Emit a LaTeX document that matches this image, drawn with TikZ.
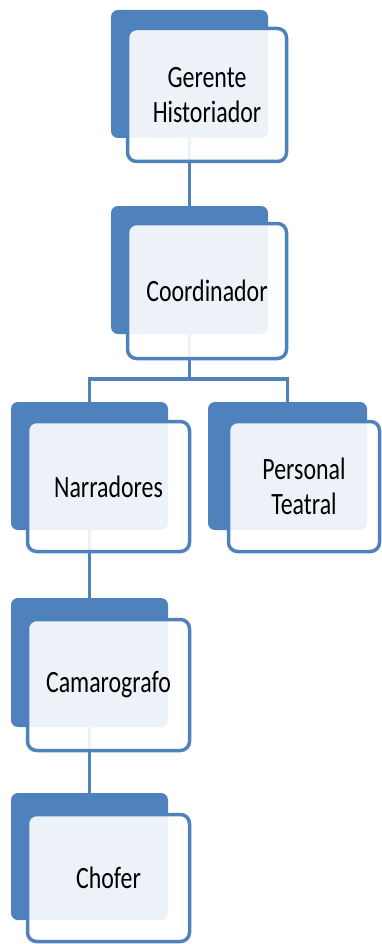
\documentclass[tikz,border=0pt]{standalone}
\usepackage{fontspec}
\newfontfamily\boxfont[FakeStretch=0.77]{Carlito}
\definecolor{ablue}{HTML}{4F81BD}
\begin{document}
\begin{tikzpicture}[x=1pt,y=-1pt,
  backbox/.style={fill=ablue, draw=none, rounded corners=7pt, inner sep=0pt, outer sep=0pt, anchor=north west},
  frontbox/.style={draw=ablue, line width=3.5pt, fill=white, fill opacity=0.9, text opacity=1,
    rounded corners=9pt, inner sep=0pt, outer sep=0pt, anchor=north west, align=center,
    font=\boxfont\fontsize{31}{34.5}\selectfont, text=black},
  link/.style={draw=ablue, line width=3.6pt}]
\useasboundingbox (0,0) rectangle (382,944);
% back boxes
\node[backbox, minimum width=157pt, minimum height=128pt] (b1) at (111,10) {};
\node[backbox, minimum width=157pt, minimum height=128pt] (b2) at (111,206) {};
\node[backbox, minimum width=157pt, minimum height=128pt] (b3) at (11,402) {};
\node[backbox, minimum width=159pt, minimum height=128pt] (b4) at (208,402) {};
\node[backbox, minimum width=157pt, minimum height=129pt] (b5) at (11,598) {};
\node[backbox, minimum width=157pt, minimum height=127pt] (b6) at (11,793) {};
% connectors
\coordinate (j) at (188,379);
\draw[link] (b1.south) -- (b2.north);
\draw[link] (b2.south) -- (b2.south |- j);
\draw[link] (b3.north) |- (j) -| (b4.north);
\draw[link] (b3.south) -- (b5.north);
\draw[link] (b5.south) -- (b6.north);
% front boxes
\node[frontbox, minimum width=159pt, minimum height=133pt] (f1) at (127.5,28.5) {Gerente\\Historiador};
\node[frontbox, minimum width=159pt, minimum height=135pt] (f2) at (127.5,223.5) {Coordinador};
\node[frontbox, minimum width=162pt, minimum height=130pt] (f3) at (27.5,421.5) {Narradores};
\node[frontbox, minimum width=151pt, minimum height=130pt] (f4) at (228.5,421.5) {Personal\\Teatral};
\node[frontbox, minimum width=162pt, minimum height=131pt] (f5) at (27.5,619.5) {Camarografo};
\node[frontbox, minimum width=162pt, minimum height=127pt] (f6) at (27.5,814.5) {Chofer};
\end{tikzpicture}
\end{document}
